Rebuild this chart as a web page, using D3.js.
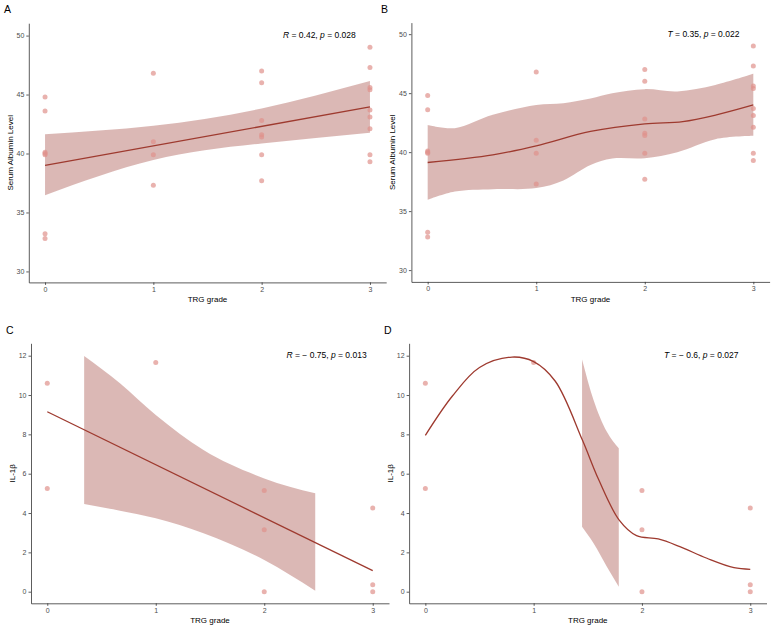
<!DOCTYPE html>
<html>
<head>
<meta charset="utf-8">
<script src="https://cdn.jsdelivr.net/npm/d3@7"></script>
<style>
  body { margin: 0; background: #fff; }
  svg { font-family: "Liberation Sans", Arial, sans-serif; }
  .tick text { fill: #4d4d4d; font-size: 7px; }
  .domain, .tick line { stroke: #333; stroke-width: 0.8; }
</style>
</head>
<body>
<div class="chart"></div>
<script>
var w = 774,
h = 628;

// x ticks (TRG grade)
var grades = [0, 1, 2, 3];
var albuminTicks = [30, 35, 40, 45, 50];
var il1bTicks = [0, 2, 4, 6, 8, 10, 12];

// raw points, shared by A/B and C/D
var albuminGrade = [0, 0, 0, 0, 0, 0, 0, 1, 1, 1, 1, 2, 2, 2, 2, 2, 2, 2, 3, 3, 3, 3, 3, 3, 3, 3, 3];
var albuminValue = [44.8, 43.6, 40.1, 40.0, 39.9, 33.2, 32.8, 46.8, 41.0, 39.9, 37.3,
  47.0, 46.0, 42.8, 41.6, 41.4, 39.9, 37.7, 49.0, 47.3, 45.6, 45.4, 43.7, 43.1, 42.1, 39.9, 39.3];
var il1bGrade = [0, 0, 1, 2, 2, 2, 3, 3, 3];
var il1bValue = [10.6, 5.25, 11.65, 5.15, 3.15, 0, 4.25, 0.35, 0];

// A: linear fit + ci band
var fitAX = [0, 3],
fitAY = [39.0, 43.95],
bandAX = [0, 1, 2, 3],
bandALow = [36.46, 39.45, 40.85, 41.75],
bandAHigh = [41.64, 42.35, 43.82, 46.14];

// B: smooth fit + band
var fitBX = [0, 0.6, 1, 1.5, 2, 2.35, 2.66, 3],
fitBY = [39.12, 39.77, 40.53, 41.75, 42.4, 42.59, 43.16, 44.0],
bandBX = [0, 0.25, 0.6, 1, 1.25, 1.5, 1.7, 2, 2.3, 2.65, 3],
bandBLow = [35.96, 36.66, 36.86, 36.95, 37.6, 38.9, 39.45, 39.49, 40.0, 41.1, 41.38],
bandBHigh = [42.3, 42.03, 43.16, 44.0, 44.15, 44.55, 45.0, 45.34, 45.15, 45.7, 46.64];

// C: linear fit + band
var fitCX = [0, 3],
fitCY = [9.15, 1.07],
bandCX = [0.34, 0.67, 1, 1.44, 2, 2.47],
bandCLow = [4.46, 4.12, 3.73, 2.97, 1.61, 0.05],
bandCHigh = [11.98, 10.6, 8.98, 7.2, 5.76, 5.0];

// D: smooth fit + band
var fitDX = [0, 0.25, 0.5, 0.8, 1.0, 1.2, 1.45, 1.6, 1.79, 1.95, 2.15, 2.35, 2.6, 2.85, 3],
fitDY = [7.95, 9.95, 11.4, 11.93, 11.7, 10.7, 7.71, 5.7, 3.64, 2.85, 2.68, 2.29, 1.7, 1.22, 1.14],
bandDX = [1.447, 1.553, 1.676, 1.786],
bandDLow = [3.3, 2.46, 1.27, 0.25],
bandDHigh = [11.81, 9.75, 8.13, 7.29];

var svg = d3.select(".chart")
  .append("svg")
  .attr("width", w)
  .attr("height", h);

var pointFill = "#e0928c",
lineCol = "#9e3a2f",
bandFill = "#a0443c";

function panel(o) {
  var x = d3.scaleLinear().domain([-0.15, 3.15]).range([o.left, o.right]);
  var y = d3.scaleLinear().domain(o.ydom).range([o.bottom, o.top]);

  svg.append("text")
    .attr("x", o.labX).attr("y", o.labY)
    .attr("font-size", 10.5)
    .text(o.label);

  // band
  var band = o.bandX.map((d, i) => [d, o.bandLow[i], o.bandHigh[i]]);
  svg.append("path")
    .datum(band)
    .attr("fill", bandFill)
    .attr("fill-opacity", 0.38)
    .attr("d", d3.area()
      .x(d => x(d[0]))
      .y0(d => y(d[1]))
      .y1(d => y(d[2]))
      .curve(o.bandCurve));

  svg.selectAll(null)
    .data(o.px)
    .enter()
    .append("circle")
    .attr("cx", d => x(d))
    .attr("cy", (d, i) => y(o.py[i]))
    .attr("r", 2.5)
    .attr("fill", pointFill)
    .attr("fill-opacity", 0.7);

  var fit = o.fitX.map((d, i) => [d, o.fitY[i]]);
  svg.append("path")
    .datum(fit)
    .attr("fill", "none")
    .attr("stroke", lineCol)
    .attr("stroke-width", 1.3)
    .attr("d", d3.line()
      .x(d => x(d[0]))
      .y(d => y(d[1]))
      .curve(o.fitCurve));

  svg.append("g")
    .attr("transform", "translate(0," + o.bottom + ")")
    .call(d3.axisBottom(x).tickValues(grades).tickFormat(d3.format("d"))
      .tickSize(2.5).tickPadding(2).tickSizeOuter(0));

  svg.append("g")
    .attr("transform", "translate(" + o.left + ",0)")
    .call(d3.axisLeft(y).tickValues(o.yticks).tickFormat(d3.format("d"))
      .tickSize(2.5).tickPadding(2).tickSizeOuter(0));

  svg.append("text")
    .attr("x", (o.left + o.right) / 2)
    .attr("y", o.bottom + 20)
    .attr("text-anchor", "middle")
    .attr("font-size", 8)
    .text("TRG grade");

  svg.append("text")
    .attr("transform", "translate(" + (o.left - 16) + "," + (o.top + o.bottom) / 2 + ") rotate(-90)")
    .attr("text-anchor", "middle")
    .attr("font-size", 8)
    .text(o.ylab);

  var t = svg.append("text")
    .attr("x", o.annX)
    .attr("y", o.annY)
    .attr("font-size", 8.5);
  t.append("tspan").attr("font-style", "italic").text(o.stat);
  t.append("tspan").text(" = " + o.statVal + ", ");
  t.append("tspan").attr("font-style", "italic").text("p");
  t.append("tspan").text(" = " + o.pVal);
}

panel({label: "A", labX: 4, labY: 13, left: 28.8, right: 386.2, top: 23.2, bottom: 282.4,
  ydom: [29.07, 51.05], yticks: albuminTicks, ylab: "Serum Albumin Level",
  px: albuminGrade, py: albuminValue, fitX: fitAX, fitY: fitAY, fitCurve: d3.curveLinear,
  bandX: bandAX, bandLow: bandALow, bandHigh: bandAHigh, bandCurve: d3.curveNatural,
  annX: 283, annY: 37.5, stat: "R", statVal: "0.42", pVal: "0.028"});

panel({label: "B", labX: 381, labY: 13, left: 411.4, right: 769.6, top: 22.6, bottom: 281.9,
  ydom: [29.0, 50.98], yticks: albuminTicks, ylab: "Serum Albumin Level",
  px: albuminGrade, py: albuminValue, fitX: fitBX, fitY: fitBY, fitCurve: d3.curveCatmullRom,
  bandX: bandBX, bandLow: bandBLow, bandHigh: bandBHigh, bandCurve: d3.curveCatmullRom,
  annX: 667.5, annY: 37, stat: "T", statVal: "0.35", pVal: "0.022"});

panel({label: "C", labX: 6, labY: 334, left: 31, right: 389, top: 343.3, bottom: 603.3,
  ydom: [-0.59, 12.63], yticks: il1bTicks, ylab: "IL-1β",
  px: il1bGrade, py: il1bValue, fitX: fitCX, fitY: fitCY, fitCurve: d3.curveLinear,
  bandX: bandCX, bandLow: bandCLow, bandHigh: bandCHigh, bandCurve: d3.curveMonotoneX,
  annX: 286.5, annY: 358, stat: "R", statVal: "\u2212 0.75", pVal: "0.013"});

panel({label: "D", labX: 384, labY: 334, left: 409.1, right: 766.5, top: 343.3, bottom: 603.3,
  ydom: [-0.59, 12.63], yticks: il1bTicks, ylab: "IL-1β",
  px: il1bGrade, py: il1bValue, fitX: fitDX, fitY: fitDY, fitCurve: d3.curveCatmullRom.alpha(0.5),
  bandX: bandDX, bandLow: bandDLow, bandHigh: bandDHigh, bandCurve: d3.curveMonotoneX,
  annX: 664, annY: 358, stat: "T", statVal: "\u2212 0.6", pVal: "0.027"});
</script>
</body>
</html>
